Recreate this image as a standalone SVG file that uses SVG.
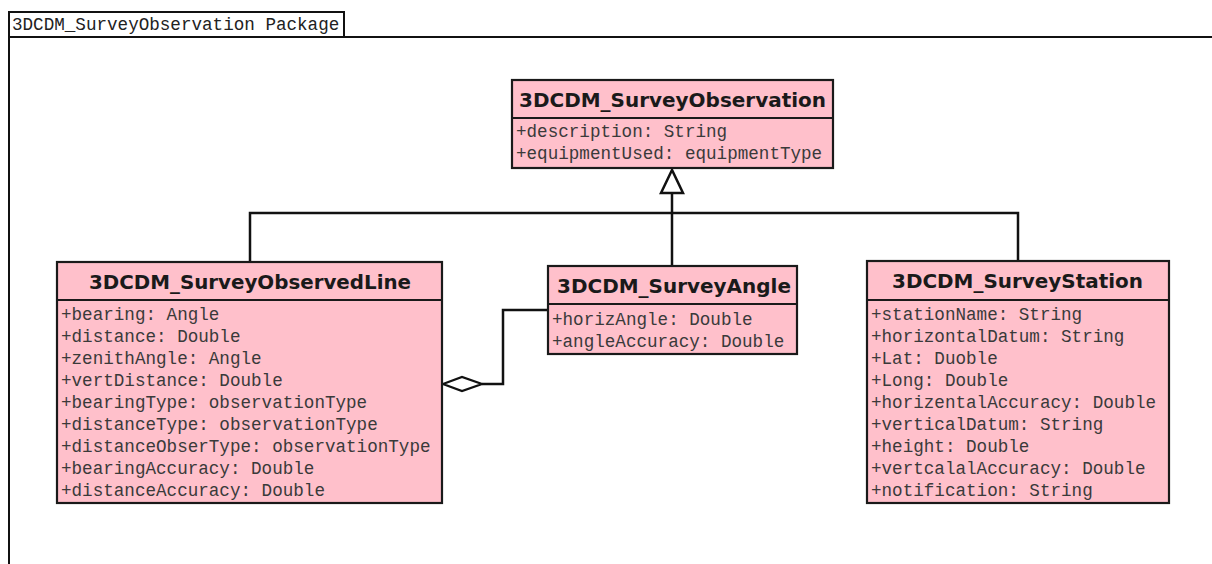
<svg xmlns="http://www.w3.org/2000/svg" width="1212" height="564" viewBox="0 0 1212 564">
<style>
.box{fill:#ffc0cb;stroke:#1a1a1a;stroke-width:2.2}
.sep{stroke:#1a1a1a;stroke-width:2}
.title{font-family:"DejaVu Sans",Verdana,sans-serif;font-weight:bold;font-size:19px;fill:#1a1a1a;text-anchor:middle}
.attr{font-family:"Liberation Mono","Courier New",monospace;font-size:17.6px;fill:#3a3a3a}
.pkg{font-family:"Liberation Mono","Courier New",monospace;font-size:17.6px;fill:#222}
.conn{fill:none;stroke:#111;stroke-width:2.5}
.frame{fill:none;stroke:#111;stroke-width:2}
</style>
<rect width="1212" height="564" fill="#ffffff"/>
<g id="package">
<path class="frame" d="M9,564 V12 H344 V37 M9,37 H1212"/>
<text class="pkg" x="12" y="30">3DCDM_SurveyObservation Package</text>
</g>
<g id="connectors">
<path class="conn" d="M672,194 V267"/>
<path class="conn" d="M250,262 V213 H1018 V261"/>
<polygon points="672,170 661,193 683,193" fill="#fff" stroke="#111" stroke-width="2.5"/>
<path class="conn" d="M548,310 H503 V384 H482"/>
<polygon points="443,384 462,377 482,384 462,391" fill="#fff" stroke="#111" stroke-width="2.2"/>
</g>
<g id="SurveyObservation">
<rect class="box" x="512" y="80" width="321" height="88"/>
<line class="sep" x1="512" y1="118" x2="833" y2="118"/>
<text class="title" x="672.5" y="107" textLength="307" lengthAdjust="spacingAndGlyphs">3DCDM_SurveyObservation</text>
<text class="attr" x="516" y="137">+description: String</text>
<text class="attr" x="516" y="159">+equipmentUsed: equipmentType</text>
</g>
<g id="SurveyObservedLine">
<rect class="box" x="57" y="262" width="385" height="241"/>
<line class="sep" x1="57" y1="300" x2="442" y2="300"/>
<text class="title" x="250" y="289" textLength="322" lengthAdjust="spacingAndGlyphs">3DCDM_SurveyObservedLine</text>
<text class="attr" x="61" y="320">+bearing: Angle</text>
<text class="attr" x="61" y="342">+distance: Double</text>
<text class="attr" x="61" y="364">+zenithAngle: Angle</text>
<text class="attr" x="61" y="386">+vertDistance: Double</text>
<text class="attr" x="61" y="408">+bearingType: observationType</text>
<text class="attr" x="61" y="430">+distanceType: observationType</text>
<text class="attr" x="61" y="452">+distanceObserType: observationType</text>
<text class="attr" x="61" y="474">+bearingAccuracy: Double</text>
<text class="attr" x="61" y="496">+distanceAccuracy: Double</text>
</g>
<g id="SurveyAngle">
<rect class="box" x="548" y="266" width="249" height="88"/>
<line class="sep" x1="548" y1="304" x2="797" y2="304"/>
<text class="title" x="674" y="293" textLength="234" lengthAdjust="spacingAndGlyphs">3DCDM_SurveyAngle</text>
<text class="attr" x="552" y="325">+horizAngle: Double</text>
<text class="attr" x="552" y="347">+angleAccuracy: Double</text>
</g>
<g id="SurveyStation">
<rect class="box" x="867" y="261" width="302" height="242"/>
<line class="sep" x1="867" y1="300" x2="1169" y2="300"/>
<text class="title" x="1017.5" y="288" textLength="251" lengthAdjust="spacingAndGlyphs">3DCDM_SurveyStation</text>
<text class="attr" x="871" y="320">+stationName: String</text>
<text class="attr" x="871" y="342">+horizontalDatum: String</text>
<text class="attr" x="871" y="364">+Lat: Duoble</text>
<text class="attr" x="871" y="386">+Long: Double</text>
<text class="attr" x="871" y="408">+horizentalAccuracy: Double</text>
<text class="attr" x="871" y="430">+verticalDatum: String</text>
<text class="attr" x="871" y="452">+height: Double</text>
<text class="attr" x="871" y="474">+vertcalalAccuracy: Double</text>
<text class="attr" x="871" y="496">+notification: String</text>
</g>
</svg>
